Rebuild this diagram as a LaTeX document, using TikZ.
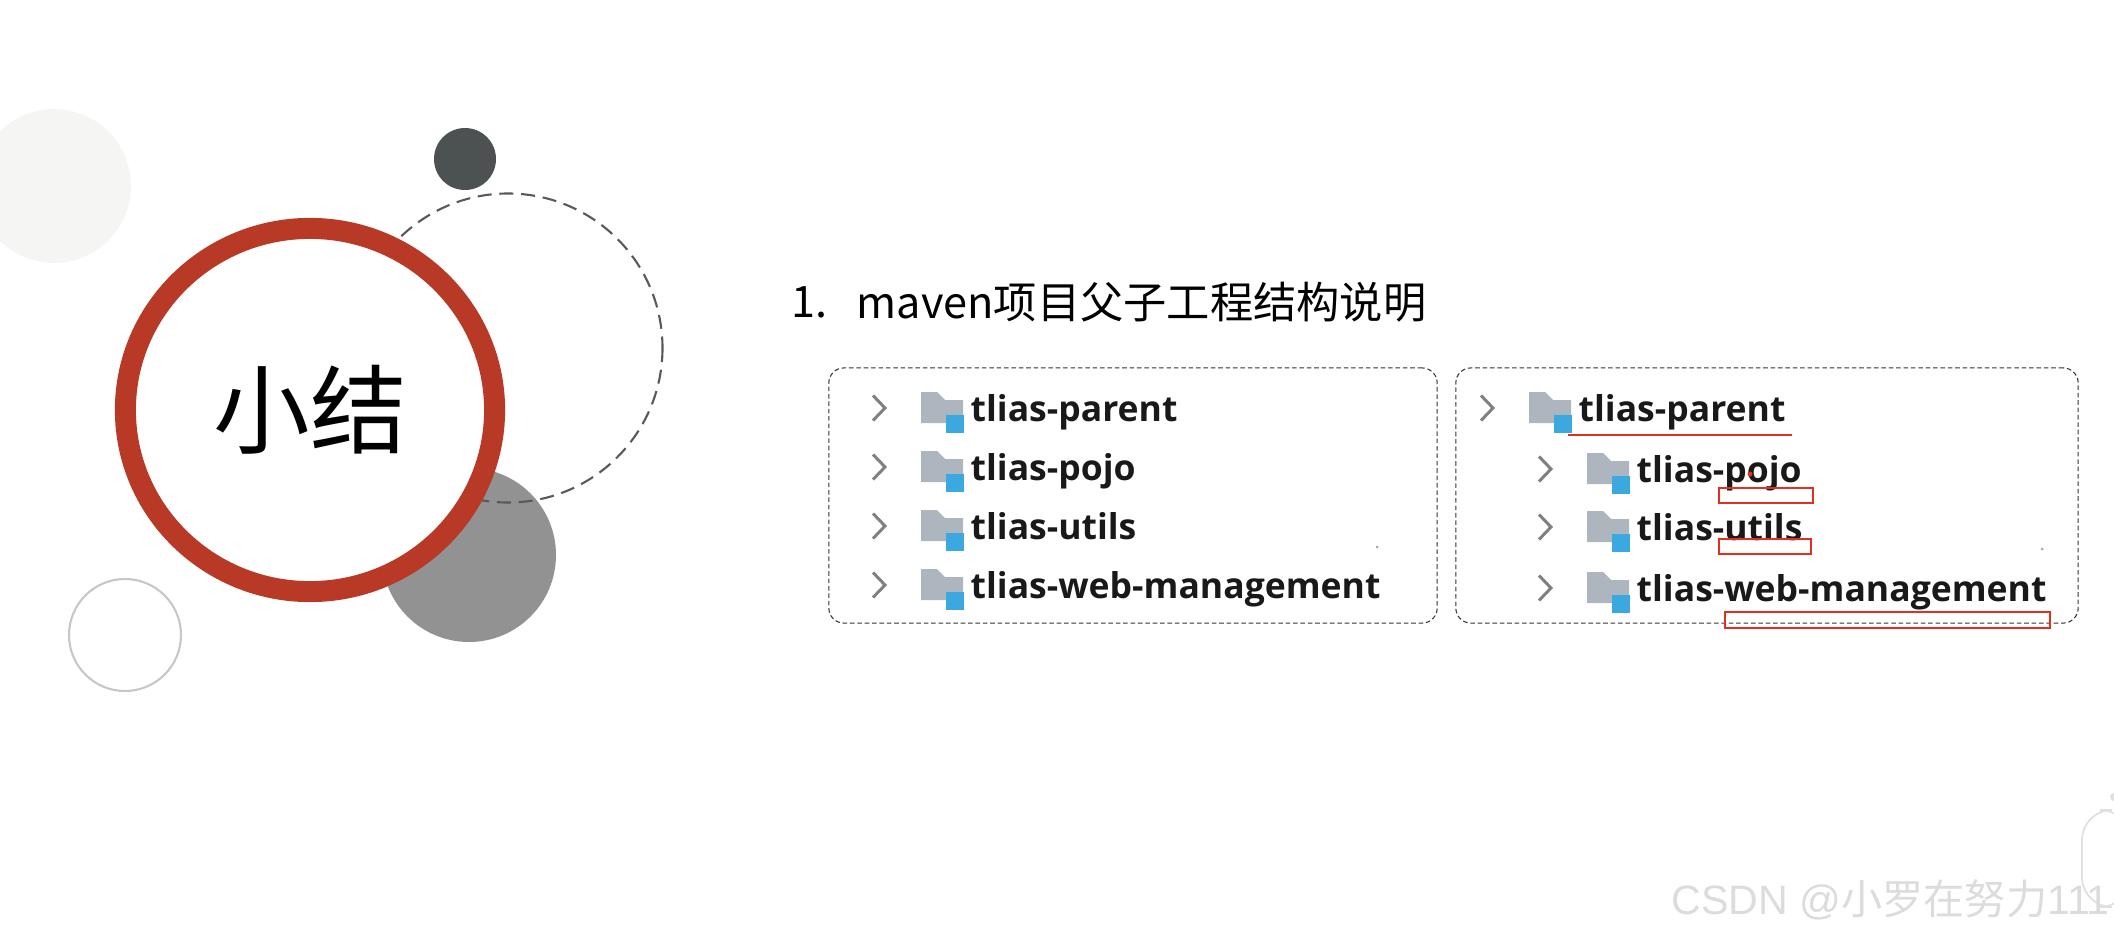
\documentclass[tikz,border=0pt]{standalone}
\usepackage{fontspec}
\usepackage{xcolor}
\usetikzlibrary{arrows.meta,calc,backgrounds,shapes.geometric}
\setmainfont{Open Sans}
\newfontfamily\cjkfont{Noto Sans CJK SC}
\newfontfamily\markfont{Liberation Sans}
\definecolor{ringred}{HTML}{B83A26}
\definecolor{slatedark}{HTML}{4C5152}
\definecolor{midgrey}{HTML}{929292}
\definecolor{palegrey}{HTML}{F5F5F3}
\definecolor{folderblue}{HTML}{3BA9E0}
\definecolor{foldergrey}{HTML}{ADB5BE}
\definecolor{markred}{HTML}{E0301E}
\definecolor{markgrey}{HTML}{DCDCDC}
\tikzset{
    treebox/.style={draw=black!80, dash pattern=on 1.3pt off 0.8pt, line width=0.3pt, rounded corners=1.5mm},
    treelabel/.style={anchor=base west, inner sep=0pt, text=black!90, font=\fontsize{10.1pt}{12pt}\selectfont\bfseries},
    redbox/.style={draw=markred, line width=0.75pt},
    pics/treerow/.style={code={
        \draw[black!50, line width=0.85pt] (-6,-12.5) -- (6,0) -- (-6,12.5);
        \fill[foldergrey] (42,-16) -- (58,-16) -- (66,-8) -- (84,-8) -- (84,15) -- (42,15) -- cycle;
        \fill[folderblue] (67,7) rectangle (85,25);
    }}
}
\begin{document}
\begin{tikzpicture}[x=0.01cm, y=-0.01cm]
\useasboundingbox (0,0) rectangle (2114,939);
% Circles
\fill[palegrey] (54,186) circle (77);
\fill[midgrey] (469,555) circle (87);
\draw[black!65, dash pattern=on 4pt off 2.2pt, line width=0.6pt] (508,348) circle (154.5);
\fill[slatedark] (465,159) circle (31);
\draw[black!22, line width=0.6pt] (125,635) circle (56);
\node[ellipse, draw=ringred, line width=0.21cm, fill=white, minimum width=3.69cm, minimum height=3.63cm, inner sep=0pt, outer sep=0pt,
    font=\cjkfont\fontsize{27.5pt}{30pt}\selectfont] (summary) at (310,410) {\raisebox{-0.06cm}{小结}};

% Title
\node[anchor=west, inner sep=0pt, font=\cjkfont\fontsize{12.3pt}{14pt}\selectfont] (num) at (791,302) {1.};
\node[anchor=west, inner sep=0pt, font=\cjkfont\fontsize{12.3pt}{14pt}\selectfont] (title) at (856,302) {maven项目父子工程结构说明};

% Left tree
\node[treebox, minimum width=6.08cm, minimum height=2.55cm, inner sep=0pt] (flat) at (1133,495.5) {};
\foreach \y/\name/\txt in {408/fa/tlias-parent, 467/fb/tlias-pojo, 526/fc/tlias-utils, 585/fd/tlias-web-management} {
    \pic at (879,\y) {treerow};
    \node[treelabel] (\name) at (970,\y+13) {\txt};
}

% Right tree
\node[treebox, minimum width=6.22cm, minimum height=2.55cm, inner sep=0pt] (nested) at (1767,495.5) {};
\foreach \x/\y/\name/\txt in {1487/408/na/tlias-parent, 1545/469/nb/tlias-pojo, 1545/527/nc/tlias-utils, 1545/588/nd/tlias-web-management} {
    \pic at (\x,\y) {treerow};
    \node[treelabel] (\name) at (\x+91,\y+13) {\txt};
}

% Red marks
\draw[markred, line width=0.7pt] (1568,435) -- (1792,435);
\draw[redbox] (1719,488) rectangle (1813,503);
\draw[redbox] (1719,539) rectangle (1811,554);
\draw[redbox] (1725,612) rectangle (2050,628);
\fill[markred] (1750,474) circle (2.5);
\fill[black!35] (1377,547) circle (1.5);
\fill[black!35] (2042,549) circle (1.5);

% Widget and watermark
\fill[white, draw=black!12, line width=0.5pt, rounded corners=3mm] (2082,810) rectangle (2130,907);
\fill[black!12] (2114,797) circle (4);
\node[anchor=base west, inner sep=0pt, text=markgrey, font=\markfont\fontsize{11.7pt}{14pt}\selectfont] (mark) at (1671,914) {CSDN @{\cjkfont 小罗在努力}111};
\end{tikzpicture}
\end{document}
